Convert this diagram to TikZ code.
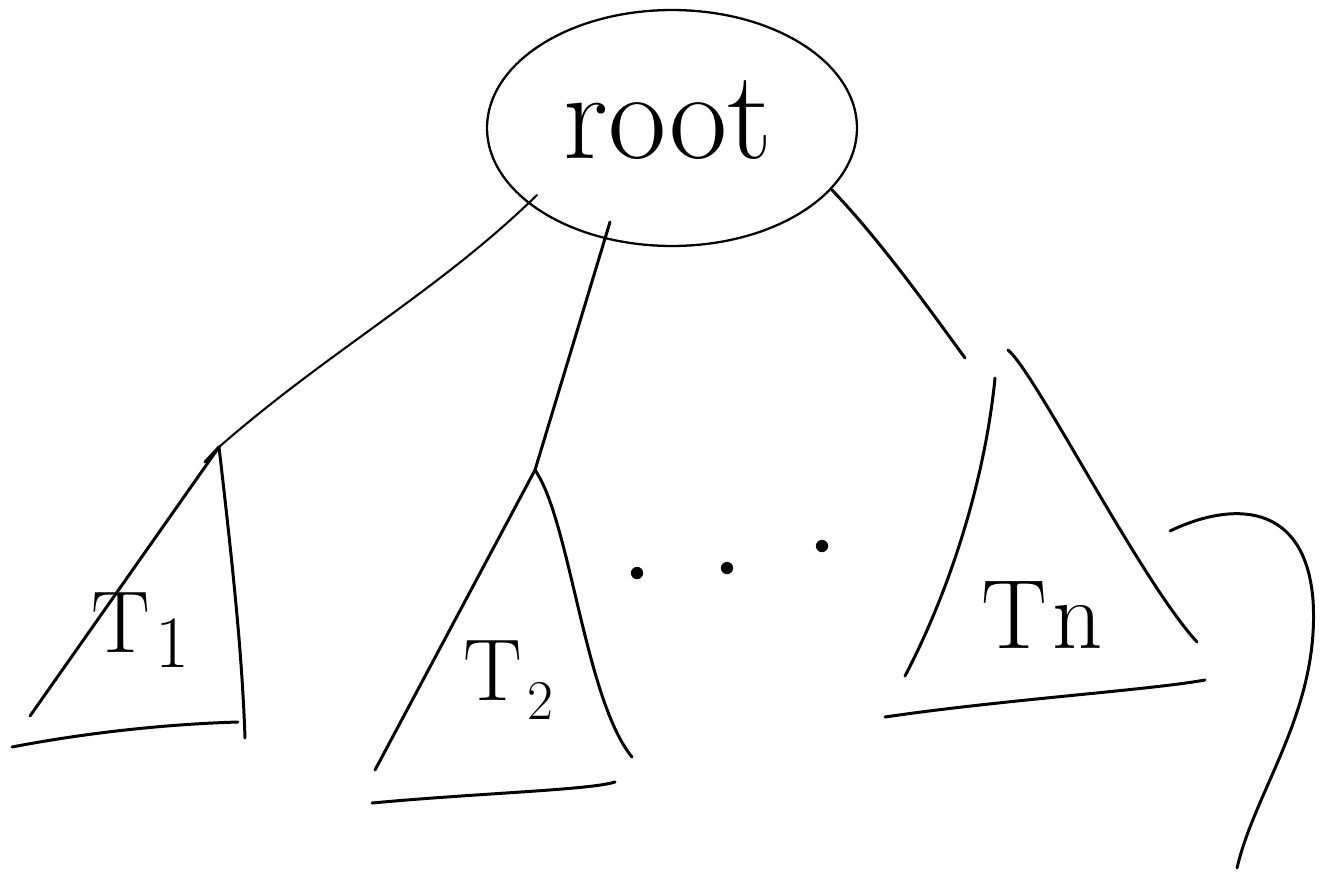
\documentclass[tikz,border=0pt]{standalone}
\usepackage{tikz}
\usetikzlibrary{shapes.geometric}
\begin{document}
\begin{tikzpicture}[x=0.02cm,y=-0.02cm,
  pen/.style={line width=1.7pt,line cap=round,line join=round},
  thinpen/.style={line width=1.2pt,line cap=round},
  lbl/.style={font=\fontsize{50}{50}\selectfont},
  dotmark/.style={circle,fill=black,inner sep=0pt,minimum size=7pt}]
\useasboundingbox (0,0) rectangle (1321,876);
% root
\node[ellipse,draw,line width=1.3pt,minimum width=7.4cm,minimum height=4.72cm] (root) at (672,128) {};
\node[font=\fontsize{72}{72}\selectfont] (roottext) at (668,120) {root};
% anchor coordinates
\coordinate (r1) at (537,195);
\coordinate (r2) at (610,222);
\coordinate (r3) at (832,190);
\coordinate (a1) at (219,447);
\coordinate (a2) at (535,470);
\coordinate (a3) at (965,358);
% connectors from root
\draw[thinpen] (r1) .. controls (440,290) and (330,350) .. (a1);
\draw[pen] (r2) -- (a2);
\draw[pen] (r3) .. controls (880,240) and (930,310) .. (a3);
% T1
\coordinate (t1l) at (30,716);
\coordinate (t1r) at (245,738);
\coordinate (t1bl) at (12,747);
\coordinate (t1br) at (238,722);
\draw[pen] (t1l) -- (a1);
\draw[pen] (205,462) -- (a1);
\draw[pen] (a1) .. controls (232,560) and (242,650) .. (t1r);
\draw[pen] (t1bl) .. controls (90,732) and (170,724) .. (t1br);
\node[lbl] (T1) at (140,630) {T\kern3pt\raisebox{-0.4ex}{\fontsize{42}{42}\selectfont 1}};
% T2
\coordinate (t2l) at (375,770);
\coordinate (t2r) at (632,757);
\coordinate (t2bl) at (372,803);
\coordinate (t2br) at (615,782);
\draw[pen] (t2l) -- (a2);
\draw[pen] (a2) .. controls (570,520) and (585,700) .. (t2r);
\draw[pen] (t2bl) .. controls (480,793) and (590,790) .. (t2br);
\node[lbl] (T2) at (508,680) {T\kern3pt\raisebox{-0.5ex}{\fontsize{32}{32}\selectfont 2}};
% dots
\node[dotmark] (d1) at (637,573) {};
\node[dotmark] (d2) at (727,568) {};
\node[dotmark] (d3) at (822,546) {};
% Tn
\coordinate (a3l) at (995,378);
\coordinate (a3r) at (1008,350);
\coordinate (tnl) at (905,676);
\coordinate (tnr) at (1197,642);
\coordinate (tnbl) at (885,717);
\coordinate (tnbr) at (1205,680);
\draw[pen] (a3l) .. controls (985,480) and (950,590) .. (tnl);
\draw[pen] (a3r) .. controls (1035,372) and (1140,580) .. (tnr);
\draw[pen] (tnbl) .. controls (1000,700) and (1150,690) .. (tnbr);
\node[font=\fontsize{56}{56}\selectfont] (Tn) at (1042,615) {T\kern3pt n};
% right curve
\coordinate (c1) at (1170,531);
\coordinate (c2) at (1313,600);
\coordinate (c3) at (1237,868);
\draw[pen] (c1) .. controls (1230,502) and (1305,500) .. (c2)
            .. controls (1320,710) and (1255,790) .. (c3);
\end{tikzpicture}
\end{document}
